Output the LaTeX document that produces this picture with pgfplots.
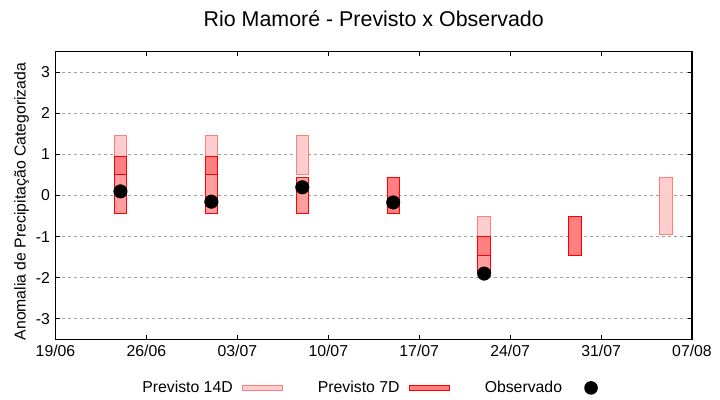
\documentclass[border=0pt]{standalone}
\usepackage{fontspec}
\setmainfont{Liberation Sans}
\usepackage{pgfplots}
\pgfplotsset{compat=1.18}
\definecolor{cFourFill}{RGB}{255,205,205}
\definecolor{cFourDraw}{RGB}{255,128,120}
\definecolor{cSevDark}{RGB}{255,128,128}
\definecolor{cSevLight}{RGB}{255,158,158}
\definecolor{cRed}{RGB}{255,0,0}
\definecolor{cGrid}{RGB}{160,160,160}
\newcommand{\lab}{\fontsize{15.8bp}{18bp}\selectfont}
\pgfplotsset{
  b14/.style={mark=none, fill=cFourFill, draw=cFourDraw, line width=1bp},
  b7l/.style={mark=none, fill=cSevLight, draw=cRed, line width=1bp},
  b7d/.style={mark=none, fill=cSevDark, draw=cRed, line width=1bp},
}
\begin{document}
\begin{tikzpicture}
\path[use as bounding box] (0,0) rectangle (720bp,400bp);
\begin{axis}[
  at={(55.5bp,60.7bp)}, anchor=south west,
  scale only axis, width=636.5bp, height=287.6bp,
  xmin=0, xmax=49, ymin=-3.5, ymax=3.5,
  no markers,
  xtick={0,7,14,21,28,35,42,49},
  xticklabels={19/06,26/06,03/07,10/07,17/07,24/07,31/07,07/08},
  ytick={-3,-2,-1,0,1,2,3},
  yticklabels={-3,-2,-1,0,1,2,3},
  tick align=inside, major tick length=4bp,
  tick style={black, line width=1bp},
  axis line style={black, line width=1.2bp},
  ymajorgrids,
  major grid style={cGrid, line width=1bp, dash pattern=on 3bp off 3bp},
  ticklabel style={font=\lab},
  yticklabel style={xshift=-2bp},
  xticklabel style={yshift=-2bp},
  title={Rio Mamoré - Previsto x Observado},
  title style={font=\fontsize{21.4bp}{24bp}\selectfont, at={(0.5,1)}, anchor=center, yshift=27bp},
  ylabel={Anomalia de Precipitação Categorizada},
  ylabel style={font=\lab, at={(axis description cs:-0.0534,0.479)}, anchor=center},
  legend columns=3,
  legend plot pos=right,
  legend style={draw=none, fill=none, font=\lab, at={(axis description cs:0.503,-0.169)}, anchor=center,
    /tikz/every even column/.append style={column sep=33bp},
    /tikz/every odd column/.append style={column sep=7bp}},
]
\addlegendimage{legend image code/.code={\path[draw=none,fill=none] (0bp,0bp) -- (40bp,0bp); \path[fill=cFourFill, draw=cFourDraw, line width=1.2bp] (0bp,-2.7bp) rectangle (40bp,2.7bp);}}
\addlegendentry{Previsto 14D}
\addlegendimage{legend image code/.code={\path[draw=none,fill=none] (0bp,0bp) -- (40bp,0bp); \path[fill=cSevDark, draw=cRed, line width=1.2bp] (0bp,-2.7bp) rectangle (40bp,2.7bp);}}
\addlegendentry{Previsto 7D}
\addlegendimage{legend image code/.code={\path[draw=none,fill=none] (0bp,0bp) -- (40bp,0bp); \path[fill=black, draw=none] (20bp,0bp) circle (6.8bp);}}
\addlegendentry{Observado}

% bar 24/06 (x=5)
\addplot[b14, forget plot] coordinates {(4.52,0.5) (5.48,0.5) (5.48,1.45) (4.52,1.45)} -- cycle;
\addplot[b7l, forget plot] coordinates {(4.52,-0.45) (5.48,-0.45) (5.48,0.95) (4.52,0.95)} -- cycle;
\addplot[b7d, forget plot] coordinates {(4.52,0.5) (5.48,0.5) (5.48,0.95) (4.52,0.95)} -- cycle;
% bar 01/07 (x=12)
\addplot[b14, forget plot] coordinates {(11.52,0.5) (12.48,0.5) (12.48,1.45) (11.52,1.45)} -- cycle;
\addplot[b7l, forget plot] coordinates {(11.52,-0.45) (12.48,-0.45) (12.48,0.95) (11.52,0.95)} -- cycle;
\addplot[b7d, forget plot] coordinates {(11.52,0.5) (12.48,0.5) (12.48,0.95) (11.52,0.95)} -- cycle;
% bar 08/07 (x=19)
\addplot[b14, forget plot] coordinates {(18.52,0.5) (19.48,0.5) (19.48,1.45) (18.52,1.45)} -- cycle;
\addplot[b7l, forget plot] coordinates {(18.52,-0.45) (19.48,-0.45) (19.48,0.45) (18.52,0.45)} -- cycle;
% bar 15/07 (x=26)
\addplot[b7d, forget plot] coordinates {(25.52,-0.45) (26.48,-0.45) (26.48,0.45) (25.52,0.45)} -- cycle;
% bar 22/07 (x=33)
\addplot[b14, forget plot] coordinates {(32.52,-1.45) (33.48,-1.45) (33.48,-0.5) (32.52,-0.5)} -- cycle;
\addplot[b7l, forget plot] coordinates {(32.52,-1.9) (33.48,-1.9) (33.48,-1.0) (32.52,-1.0)} -- cycle;
\addplot[b7d, forget plot] coordinates {(32.52,-1.45) (33.48,-1.45) (33.48,-1.0) (32.52,-1.0)} -- cycle;
% bar 29/07 (x=40)
\addplot[b7d, forget plot] coordinates {(39.52,-1.45) (40.48,-1.45) (40.48,-0.5) (39.52,-0.5)} -- cycle;
% bar 05/08 (x=47)
\addplot[b14, forget plot] coordinates {(46.52,-0.95) (47.48,-0.95) (47.48,0.45) (46.52,0.45)} -- cycle;

% observed
\addplot[only marks, mark=*, mark size=6.8bp, mark options={fill=black, draw=black}, forget plot]
  coordinates {(5,0.1) (12,-0.15) (19,0.2) (26,-0.17) (33,-1.9)};
\end{axis}
\end{tikzpicture}
\end{document}
